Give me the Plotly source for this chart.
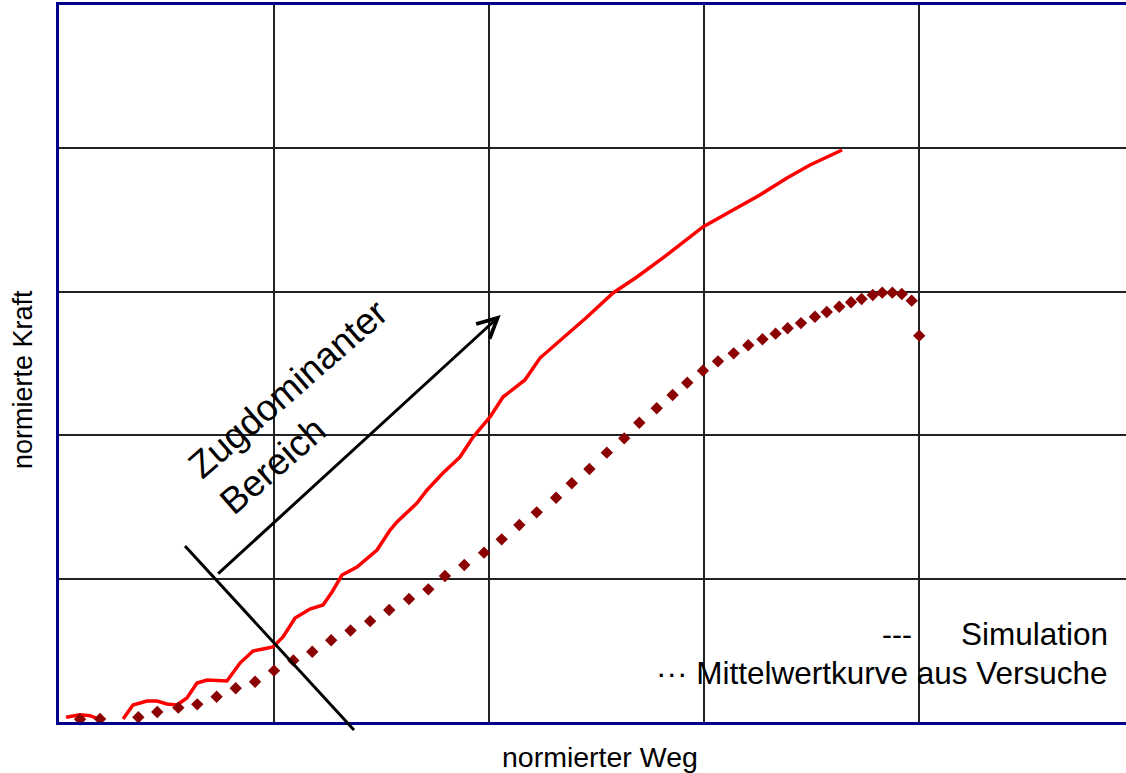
import plotly.graph_objects as go

# Simulation (normierter Weg, normierte Kraft); None = curve leaves the plot area
sim_x = [0.033, 0.098, 0.144, 0.177, None, 0.298, 0.344, 0.409, 0.456, 0.502, 0.549, 0.595,
         0.642, 0.688, 0.781, 0.842, 0.902, 0.949, 0.995, 1.042, 1.098, 1.167, 1.228, 1.270,
         1.316, 1.386, 1.447, 1.479, 1.540, 1.572, 1.665, 1.712, 1.786, 1.865, 1.926, 2.005,
         2.065, 2.167, 2.237, 2.344, 2.456, 2.577, 2.688, 2.809, 2.995, 3.135, 3.260, 3.386,
         3.493, 3.642]
sim_y = [0.033, 0.051, 0.044, 0.026, None, 0.021, 0.119, 0.146, 0.146, 0.126, 0.119, 0.167,
         0.272, 0.293, 0.286, 0.411, 0.495, 0.509, 0.523, 0.593, 0.725, 0.788, 0.816, 0.907,
         1.025, 1.081, 1.158, 1.199, 1.339, 1.395, 1.527, 1.618, 1.736, 1.848, 1.987, 2.127,
         2.266, 2.385, 2.538, 2.678, 2.824, 2.992, 3.103, 3.236, 3.452, 3.570, 3.675, 3.794,
         3.884, 3.989]

# Mittelwertkurve aus Versuche
exp_x = [0.098, 0.191, 0.369, 0.457, 0.555, 0.643, 0.733, 0.822, 0.912, 1.000, 1.090, 1.178,
         1.266, 1.356, 1.447, 1.536, 1.628, 1.718, 1.795, 1.885, 1.977, 2.059, 2.141, 2.222,
         2.312, 2.385, 2.467, 2.548, 2.629, 2.699, 2.780, 2.854, 2.922, 2.995, 3.065, 3.138,
         3.206, 3.272, 3.333, 3.389, 3.451, 3.516, 3.571, 3.629, 3.684, 3.733, 3.785, 3.829,
         3.876, 3.920, 3.966, 4.001]
exp_y = [0.019, 0.021, 0.033, 0.070, 0.100, 0.123, 0.176, 0.235, 0.281, 0.358, 0.429, 0.490,
         0.570, 0.638, 0.703, 0.781, 0.858, 0.925, 1.018, 1.095, 1.181, 1.274, 1.374, 1.462,
         1.564, 1.665, 1.764, 1.878, 1.978, 2.087, 2.188, 2.280, 2.366, 2.450, 2.515, 2.571,
         2.627, 2.669, 2.708, 2.746, 2.782, 2.826, 2.859, 2.896, 2.927, 2.950, 2.978, 2.994,
         2.994, 2.985, 2.938, 2.694]

x_title = "normierter Weg"
y_title = "normierte Kraft"
legend_sim = "Simulation"
legend_exp = "··· Mittelwertkurve aus Versuche"
region_label = "Zugdominanter<br>Bereich"

FONT = "Arial, Liberation Sans, sans-serif"
AXIS_BLUE = "#00008B"

fig = go.Figure()
fig.add_trace(go.Scatter(x=sim_x, y=sim_y, mode="lines", connectgaps=False,
                         line=dict(color="#FF0000", width=3.5), name=legend_sim))
fig.add_trace(go.Scatter(x=exp_x, y=exp_y, mode="markers", cliponaxis=False,
                         marker=dict(symbol="diamond", size=9.5, color="#8B0000"),
                         name="Mittelwertkurve aus Versuche"))

fig.update_layout(
    width=1126, height=773,
    margin=dict(l=59, r=0, t=5, b=51),
    plot_bgcolor="white", paper_bgcolor="white",
    showlegend=False,
    font=dict(family=FONT, color="black"),
    xaxis=dict(range=[0, 1067 / 215], dtick=1, tick0=0, showticklabels=False, ticks="",
               showgrid=True, gridcolor="#222222", gridwidth=1.6, zeroline=False,
               showline=True, linecolor=AXIS_BLUE, linewidth=3, mirror=True),
    yaxis=dict(range=[0, 5], dtick=1, tick0=0, showticklabels=False, ticks="",
               showgrid=True, gridcolor="#222222", gridwidth=1.6, zeroline=False,
               showline=True, linecolor=AXIS_BLUE, linewidth=3, mirror=False),
)

# pixel -> paper helpers for the annotation layer
def px(xp):
    return (xp - 59) / 1067

def py(yp):
    return (722 - yp) / 717

# perpendicular boundary line
fig.add_shape(type="line", xref="paper", yref="paper",
              x0=px(185), y0=py(546), x1=px(354), y1=py(730),
              line=dict(color="black", width=3))

# arrow
fig.add_annotation(x=px(500.7), y=py(315), xref="paper", yref="paper",
                   ax=216.7 - 500.7, ay=575 - 315, axref="pixel", ayref="pixel",
                   text="", showarrow=True, arrowhead=5, arrowsize=1.3,
                   arrowwidth=3, arrowcolor="black", standoff=0)

# rotated label
fig.add_annotation(x=px(303), y=py(407), xref="paper", yref="paper",
                   xanchor="center", yanchor="middle",
                   text=region_label, showarrow=False, textangle=-41, align="left",
                   font=dict(family=FONT, size=37, color="black"))

# legend texts
fig.add_annotation(x=px(914), y=py(634), xref="paper", yref="paper", xanchor="right",
                   yanchor="middle", text="---", showarrow=False,
                   font=dict(family=FONT, size=30, color="black"))
fig.add_annotation(x=px(1110), y=py(634), xref="paper", yref="paper", xanchor="right",
                   yanchor="middle", text=legend_sim, showarrow=False,
                   font=dict(family=FONT, size=31.5, color="black"))
fig.add_annotation(x=px(1110), y=py(673), xref="paper", yref="paper", xanchor="right",
                   yanchor="middle", text=legend_exp, showarrow=False,
                   font=dict(family=FONT, size=31.5, color="black"))

# axis titles
fig.add_annotation(x=px(600), y=py(757), xref="paper", yref="paper", xanchor="center",
                   yanchor="middle", text=x_title, showarrow=False,
                   font=dict(family=FONT, size=28.5, color="black"))
fig.add_annotation(x=px(23), y=py(380), xref="paper", yref="paper", xanchor="center",
                   yanchor="middle", text=y_title, showarrow=False, textangle=-90,
                   font=dict(family=FONT, size=27, color="black"))

fig.write_html("out.html", config={"displayModeBar": False},
               post_script="document.body.style.margin='0';document.body.style.overflow='hidden';")
